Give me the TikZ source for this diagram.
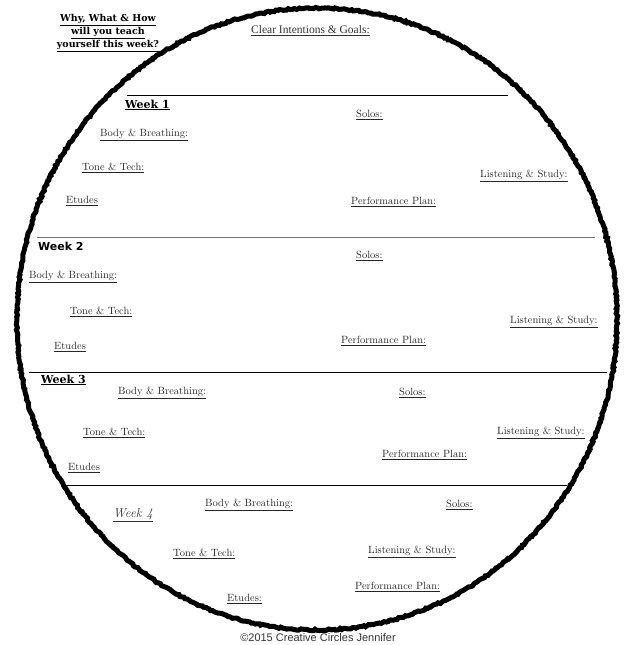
\documentclass[tikz,border=0pt]{standalone}
\usepackage{fontspec}
\setmainfont{Latin Modern Roman}
\newfontfamily\slabfont{DejaVu Serif}
\newfontfamily\titlefont{Liberation Serif}
\newfontfamily\comicfont{DejaVu Sans}
\newfontfamily\copyfont{Liberation Sans}
\usetikzlibrary{decorations.pathmorphing}
\begin{document}
\begin{tikzpicture}[x=1pt,y=-1pt,
  lbl/.style={anchor=west,inner sep=0pt,font=\fontsize{10.5}{12}\selectfont,text=black!85},
  slab/.style={anchor=west,inner sep=0pt,font=\slabfont\bfseries\fontsize{10}{12}\selectfont},
  rule/.style={line width=1pt},
  ring/.style={line width=5pt,decorate,decoration={random steps,segment length=2pt,amplitude=0.8pt}}]
\useasboundingbox (0,0) rectangle (629,645);
\clip (0,0) rectangle (629,645);
% circle
\draw[ring] (317,319) ellipse [x radius=300, y radius=311];
% rules
\coordinate (r1a) at (127,95);  \coordinate (r1b) at (508,95);
\coordinate (r2a) at (37,237);  \coordinate (r2b) at (595,237);
\coordinate (r3a) at (29,372);  \coordinate (r3b) at (607,372);
\coordinate (r4a) at (65,485);  \coordinate (r4b) at (567,485);
\draw[rule] (r1a) -- (r1b);
\draw[rule,black!55] (r2a) -- (r2b);
\draw[rule] (r3a) -- (r3b);
\draw[rule] (r4a) -- (r4b);
% header
\node[font=\slabfont\bfseries\fontsize{9.5}{13}\selectfont,align=center,inner sep=0pt] (why) at (108,33)
  {\underline{Why, What \& How}\\\underline{will you teach}\\\underline{yourself this week?}};
\node[anchor=west,inner sep=0pt,font=\titlefont\fontsize{11.5}{13}\selectfont,text=black!80] (goals) at (251,31) {\underline{Clear Intentions \& Goals:}};
% week 1
\node[slab,font=\slabfont\bfseries\fontsize{11}{13}\selectfont] (w1) at (125,105) {\underline{Week 1}};
\node[lbl] (w1b) at (100,135) {\underline{Body \& Breathing:}};
\node[lbl] (w1s) at (356,115) {\underline{Solos:}};
\node[lbl] (w1t) at (82,168) {\underline{Tone \& Tech:}};
\node[lbl] (w1l) at (480,176) {\underline{Listening \& Study:}};
\node[lbl] (w1e) at (66,201) {\underline{Etudes}};
\node[lbl] (w1p) at (351,202) {\underline{Performance Plan:}};
% week 2
\node[anchor=west,inner sep=0pt,font=\comicfont\bfseries\fontsize{11}{13}\selectfont] (w2) at (38,246) {Week 2};
\node[lbl] (w2b) at (29,277) {\underline{Body \& Breathing:}};
\node[lbl] (w2s) at (356,256) {\underline{Solos:}};
\node[lbl] (w2t) at (70,312) {\underline{Tone \& Tech:}};
\node[lbl] (w2l) at (510,322) {\underline{Listening \& Study:}};
\node[lbl] (w2e) at (54,347) {\underline{Etudes}};
\node[lbl] (w2p) at (341,341) {\underline{Performance Plan:}};
% week 3
\node[slab,font=\slabfont\bfseries\fontsize{11}{13}\selectfont] (w3) at (41,380) {\underline{Week 3}};
\node[lbl] (w3b) at (118,393) {\underline{Body \& Breathing:}};
\node[lbl] (w3s) at (399,393) {\underline{Solos:}};
\node[lbl] (w3t) at (83,433) {\underline{Tone \& Tech:}};
\node[lbl] (w3l) at (497,433) {\underline{Listening \& Study:}};
\node[lbl] (w3e) at (68,468) {\underline{Etudes}};
\node[lbl] (w3p) at (382,455) {\underline{Performance Plan:}};
% week 4
\node[anchor=west,inner sep=0pt,font=\itshape\fontsize{13}{15}\selectfont,text=black!80] (w4) at (113,515) {\underline{Week 4}};
\node[lbl] (w4b) at (205,505) {\underline{Body \& Breathing:}};
\node[lbl] (w4s) at (446,505) {\underline{Solos:}};
\node[lbl] (w4t) at (173,554) {\underline{Tone \& Tech:}};
\node[lbl] (w4l) at (368,552) {\underline{Listening \& Study:}};
\node[lbl] (w4e) at (227,599) {\underline{Etudes:}};
\node[lbl] (w4p) at (355,587) {\underline{Performance Plan:}};
% footer
\node[inner sep=0pt,font=\copyfont\fontsize{11}{13}\selectfont,text=black!80] (copy) at (318,638) {\textcopyright2015 Creative Circles Jennifer};
\end{tikzpicture}
\end{document}
